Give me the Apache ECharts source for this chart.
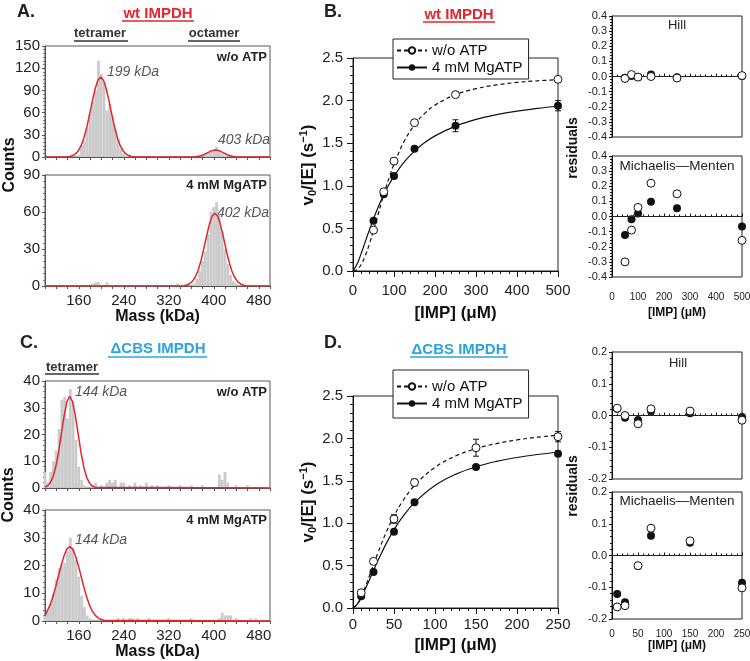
<!DOCTYPE html>
<html>
<head>
<meta charset="utf-8">
<title>IMPDH mass photometry and kinetics</title>
<script src="https://cdn.jsdelivr.net/npm/echarts@6/dist/echarts.min.js"></script>
<style>
html, body { margin: 0; padding: 0; background: #fff; }
#main { width: 750px; height: 661px; }
</style>
</head>
<body>
<div id="main"></div>
<script>
var FONT = '"Liberation Sans", Arial, Helvetica, sans-serif';
var RED = '#e3262d';
var BLUE = '#2ba4dd';

// ---- mass histograms (bin centre kDa, counts; bins 5 kDa wide) ----
var binWidth = 5;
var massTicks = [160, 240, 320, 400, 480];

// A, wt IMPDH, w/o ATP
var wtApoMass  = [160,165,170,175,180,185,190,195,200,205,210,215,220,225,230,235,240,245,300,345,370,385,390,395,400,405,410,415,420];
var wtApoCount = [3,16,22,40,58,75,90,130,112,100,63,72,55,38,24,12,5,2,1,1,2,3,5,7,9,14,8,4,2];
var wtApoFitMass  = [100,139,144,149,154,159,164,169,174,179,184,189,194,199,204,209,214,219,224,229,234,239,244,249,254,259,264,300,358,363,368,373,378,383,388,393,398,403,408,413,418,423,428,433,438,443,448,500];
var wtApoFitCount = [0,0.3,0.8,1.9,4.1,8.2,15.0,25.3,39.4,56.6,75.2,91.9,103.7,108,103.7,91.9,75.2,56.6,39.4,25.3,15.0,8.2,4.1,1.9,0.8,0.3,0.1,0,0.06,0.16,0.42,0.96,1.93,3.43,5.35,7.36,8.91,9.5,8.91,7.36,5.35,3.43,1.93,0.96,0.42,0.16,0.06,0];

// A, wt IMPDH, 4 mM MgATP
var wtAtpMass  = [125,155,185,190,195,210,235,290,330,335,340,365,370,375,380,385,390,395,400,405,410,415,420,425,430,435,440,465,490];
var wtAtpCount = [1,1,2,3,3,3,1,1,1,2,1,2,6,12,20,28,42,60,64,68,58,44,30,18,9,4,2,1,1];
var wtAtpFitMass  = [100,347,352,357,362,367,372,377,382,387,392,397,402,407,412,417,422,427,432,437,442,447,452,457,500];
var wtAtpFitCount = [0,0.3,0.8,1.8,3.7,7.1,12.4,20.0,29.6,40.0,49.6,56.5,59,56.5,49.6,40.0,29.6,20.0,12.4,7.1,3.7,1.8,0.8,0.3,0];

// C, dCBS IMPDH, w/o ATP
var cbsApoMass  = [100,105,110,115,120,125,130,135,140,145,150,155,160,165,170,185,190,200,210,215,220,225,235,240,250,260,270,280,290,300,320,340,360,380,410,415,420,425,440,460];
var cbsApoCount = [6,2,6,10,14,22,33,34,26,37,32,18,8,3,1,1,2,1,2,3,2,3,2,2,1,2,1,2,1,1,1,1,1,1,5,3,6,2,1,1];
var cbsApoFitMass  = [100,104,109,114,119,124,129,134,139,144,149,154,159,164,169,174,179,184,189,500];
var cbsApoFitCount = [0.35,0.75,1.9,4.0,7.8,13.2,20.1,27.0,32.3,34.3,32.3,27.0,20.1,13.2,7.8,4.0,1.9,0.75,0.3,0];

// C, dCBS IMPDH, 4 mM MgATP
var cbsAtpMass  = [100,105,110,115,120,125,130,135,140,145,150,155,160,165,170,175,180,230,240,250,255,265,285,320,360,410,415,420,425,430,440,465,475];
var cbsAtpCount = [2,4,6,10,15,19,20,21,25,30,26,22,16,9,5,2,1,1,1,1,1,1,1,1,1,1,3,2,2,2,1,1,1];
var cbsAtpFitMass  = [100,104,109,114,119,124,129,134,139,144,149,154,159,164,169,174,179,184,189,194,199,204,500];
var cbsAtpFitCount = [1.8,3.6,5.8,8.7,12.3,16.3,20.2,23.6,26.0,26.8,26.0,23.6,20.2,16.3,12.3,8.7,5.8,3.6,2.1,1.2,0.6,0.3,0];

// ---- kinetics, wt IMPDH (B) ----
var bConc   = [50, 75, 100, 150, 250, 500];
var bApo    = [0.48, 0.93, 1.29, 1.74, 2.07, 2.25];
var bAtp    = [0.59, 0.90, 1.115, 1.435, 1.705, 1.94];
var bApoErr = [0.01, 0.01, 0.01, 0.01, 0.01, 0.01];
var bAtpErr = [0.01, 0.01, 0.01, 0.01, 0.07, 0.06];
var bFitX   = [0,10,20,30,40,50,60,70,80,90,100,125,150,175,200,250,300,350,400,450,500];
var bFitApo = [0,0.017,0.077,0.18,0.317,0.477,0.646,0.814,0.974,1.122,1.254,1.524,1.715,1.85,1.947,2.07,2.14,2.184,2.213,2.232,2.246];
var bFitAtp = [0,0.081,0.207,0.345,0.483,0.614,0.734,0.845,0.944,1.033,1.113,1.28,1.407,1.507,1.586,1.70,1.779,1.835,1.877,1.909,1.934];
var bHillApo = [-0.013, 0.013, -0.004, 0.0, -0.01, 0.006];
var bHillAtp = [-0.008, 0.004, -0.004, 0.013, -0.005, 0.004];
var bMmApo   = [-0.30, -0.09, 0.06, 0.22, 0.15, -0.158];
var bMmAtp   = [-0.123, -0.018, 0.02, 0.097, 0.055, -0.066];

// ---- kinetics, dCBS IMPDH (D) ----
var dConc   = [10, 25, 50, 75, 150, 250];
var dApo    = [0.18, 0.55, 1.05, 1.48, 1.89, 2.02];
var dAtp    = [0.14, 0.425, 0.90, 1.246, 1.663, 1.82];
var dApoErr = [0.02, 0.03, 0.05, 0.04, 0.10, 0.06];
var dAtpErr = [0.01, 0.01, 0.01, 0.01, 0.02, 0.03];
var dFitX   = [0,5,10,20,25,30,40,50,60,75,100,125,150,175,200,225,250];
var dFitApo = [0,0.043,0.132,0.377,0.511,0.641,0.882,1.085,1.252,1.444,1.659,1.792,1.88,1.939,1.982,2.014,2.038];
var dFitAtp = [0,0.042,0.123,0.331,0.442,0.55,0.75,0.924,1.069,1.243,1.445,1.576,1.666,1.729,1.775,1.81,1.837];
var dHillApo = [0.023, 0.0, -0.026, 0.021, 0.014, -0.015];
var dHillAtp = [0.021, -0.007, -0.014, 0.014, 0.007, -0.005];
var dMmApo   = [-0.162, -0.158, -0.032, 0.086, 0.046, -0.102];
var dMmAtp   = [-0.121, -0.147, -0.033, 0.062, 0.04, -0.086];

function zip(xs, ys, es) {
    return xs.map(function (x, i) { return es ? [x, ys[i], es[i]] : [x, ys[i]]; });
}
function fmt1(v) { return Math.abs(v) < 1e-9 ? '0.0' : v.toFixed(1); }

var chart = echarts.init(document.getElementById('main'));

//面板位置
var grids = [
    {left: 45,  top: 46,  width: 225, height: 111},  // A w/o ATP
    {left: 45,  top: 175, width: 225, height: 111},  // A MgATP
    {left: 353, top: 58,  width: 205, height: 213},  // B
    {left: 612, top: 16,  width: 130, height: 121},  // B Hill
    {left: 612, top: 156, width: 130, height: 121},  // B MM
    {left: 45,  top: 381, width: 225, height: 107},  // C w/o ATP
    {left: 45,  top: 510, width: 225, height: 111},  // C MgATP
    {left: 353, top: 396, width: 205, height: 212},  // D
    {left: 612, top: 352, width: 130, height: 127},  // D Hill
    {left: 612, top: 492, width: 130, height: 127}   // D MM
].map(function (g, i) {
    var hist = (i === 0 || i === 1 || i === 5 || i === 6);
    return Object.assign({show: true, borderColor: hist ? '#555' : '#222', borderWidth: 1,
        backgroundColor: 'transparent', outerBoundsMode: 'none'}, g);
});

function histX(gi, showLabels) {
    return {
        type: 'value', gridIndex: gi, min: 100, max: 500, interval: 20,
        axisLine: {lineStyle: {color: '#555'}},
        axisTick: {length: 3, lineStyle: {color: '#555'}},
        axisLabel: showLabels ? {fontSize: 15, margin: 7, color: '#222', fontFamily: FONT,
            formatter: function (v) { return massTicks.indexOf(v) >= 0 ? String(v) : ''; }} : {show: false},
        splitLine: {show: false},
        name: showLabels ? 'Mass (kDa)' : '', nameLocation: 'middle', nameGap: 21,
        nameTextStyle: {fontSize: 16, fontWeight: 'bold', color: '#111', fontFamily: FONT}
    };
}
function histY(gi, max, step, minor) {
    return {
        type: 'value', gridIndex: gi, min: 0, max: max, interval: step,
        axisLine: {show: true, lineStyle: {color: '#555'}},
        axisTick: {show: true, length: 3, lineStyle: {color: '#555'}},
        minorTick: {show: true, splitNumber: minor, length: 2, lineStyle: {color: '#777'}},
        axisLabel: {fontSize: 15, margin: 5, color: '#222', fontFamily: FONT},
        splitLine: {show: false}, minorSplitLine: {show: false}
    };
}
function kinX(gi, max, step, margin, gap) {
    return {
        type: 'value', gridIndex: gi, min: 0, max: max, interval: step,
        axisLine: {lineStyle: {color: '#111'}},
        axisTick: {length: 6, lineStyle: {color: '#111'}},
        minorTick: {show: true, splitNumber: 5, length: 3, lineStyle: {color: '#111'}},
        axisLabel: {fontSize: 15, margin: margin, color: '#222', fontFamily: FONT},
        splitLine: {show: false}, minorSplitLine: {show: false},
        name: '[IMP] (\u03bcM)', nameLocation: 'middle', nameGap: gap,
        nameTextStyle: {fontSize: 17, fontWeight: 'bold', color: '#111', fontFamily: FONT}
    };
}
function kinY(gi) {
    return {
        type: 'value', gridIndex: gi, min: 0, max: 2.5, interval: 0.5,
        axisLine: {show: true, lineStyle: {color: '#111'}},
        axisTick: {show: true, length: 6, lineStyle: {color: '#111'}},
        minorTick: {show: true, splitNumber: 5, length: 3, lineStyle: {color: '#111'}},
        axisLabel: {fontSize: 15, margin: 10, color: '#222', fontFamily: FONT, formatter: fmt1},
        splitLine: {show: false}, minorSplitLine: {show: false}
    };
}
function resX(gi, max, step, labels, margin, gap) {
    return {
        type: 'value', gridIndex: gi, min: 0, max: max, interval: step,
        axisLine: {lineStyle: {color: '#111'}},
        axisTick: {inside: true, length: 3, lineStyle: {color: '#111'}},
        minorTick: {show: true, splitNumber: 5, length: 2, lineStyle: {color: '#111'}},
        axisLabel: labels ? {fontSize: 10, margin: margin, color: '#222', fontFamily: FONT} : {show: false},
        splitLine: {show: false}, minorSplitLine: {show: false},
        name: labels ? '[IMP] (\u03bcM)' : '', nameLocation: 'middle', nameGap: gap,
        nameTextStyle: {fontSize: 12, fontWeight: 'bold', color: '#111', fontFamily: FONT}
    };
}
function resY(gi, lim) {
    return {
        type: 'value', gridIndex: gi, min: -lim, max: lim, interval: 0.1,
        axisLine: {show: true, lineStyle: {color: '#111'}},
        axisTick: {show: true, length: 3, lineStyle: {color: '#111'}},
        minorTick: {show: true, splitNumber: 5, length: 2, lineStyle: {color: '#111'}},
        axisLabel: {fontSize: 11, margin: 5, color: '#222', fontFamily: FONT, formatter: fmt1},
        splitLine: {show: false}, minorSplitLine: {show: false}
    };
}

function binItem(params, api) {
    var m = api.value(0), c = api.value(1);
    var tl = api.coord([m - binWidth / 2, c]);
    var br = api.coord([m + binWidth / 2, 0]);
    return {type: 'rect', shape: {x: tl[0], y: tl[1], width: br[0] - tl[0], height: br[1] - tl[1]},
        style: {fill: '#cbcbcb'}};
}
function errItem(params, api) {
    var x = api.value(0), y = api.value(1), e = api.value(2);
    var hi = api.coord([x, y + e]), lo = api.coord([x, y - e]);
    var cap = 3, st = {stroke: '#111', lineWidth: 1};
    return {type: 'group', children: [
        {type: 'line', shape: {x1: hi[0], y1: hi[1], x2: lo[0], y2: lo[1]}, style: st},
        {type: 'line', shape: {x1: hi[0] - cap, y1: hi[1], x2: hi[0] + cap, y2: hi[1]}, style: st},
        {type: 'line', shape: {x1: lo[0] - cap, y1: lo[1], x2: lo[0] + cap, y2: lo[1]}, style: st}
    ]};
}

function histSeries(gi, mass, counts) {
    return {type: 'custom', xAxisIndex: gi, yAxisIndex: gi, renderItem: binItem,
        encode: {x: 0, y: 1}, data: zip(mass, counts), silent: true, z: 1};
}
function fitSeries(gi, mass, counts) {
    return {type: 'line', xAxisIndex: gi, yAxisIndex: gi, data: zip(mass, counts),
        symbol: 'none', lineStyle: {color: RED, width: 1.5}, silent: true, z: 3};
}
function curveSeries(gi, name, xs, ys, dashed) {
    return {type: 'line', name: name, xAxisIndex: gi, yAxisIndex: gi, data: zip(xs, ys),
        smooth: 0.4, showSymbol: false, symbol: dashed ? 'emptyCircle' : 'circle', symbolSize: 6,
        itemStyle: {color: '#111', borderWidth: 1},
        lineStyle: {color: '#111', width: 1.2, type: dashed ? [4, 3] : 'solid'}, z: 2, silent: true};
}
function errSeries(gi, xs, ys, es) {
    return {type: 'custom', xAxisIndex: gi, yAxisIndex: gi, renderItem: errItem,
        encode: {x: 0, y: 1}, data: zip(xs, ys, es), silent: true, z: 3};
}
function dotSeries(gi, name, xs, ys, open, size, zero) {
    var s = {type: 'scatter', name: name, xAxisIndex: gi, yAxisIndex: gi, data: zip(xs, ys),
        symbol: 'circle', symbolSize: size,
        itemStyle: open ? {color: '#fff', borderColor: '#111', borderWidth: 1, opacity: 1}
                        : {color: '#111', opacity: 1},
        z: open ? 5 : 4, silent: true};
    if (zero) {
        s.markLine = {silent: true, symbol: 'none', label: {show: false},
            lineStyle: {color: '#222', width: 1, type: 'solid'}, data: [{yAxis: 0}]};
    }
    return s;
}

function txt(x, y, text, font, color, align, rot) {
    return {type: 'text', x: x, y: y, rotation: rot || 0, silent: true,
        style: {text: text, font: font, fill: color || '#222', align: align || 'center', verticalAlign: 'middle'}};
}
function uline(x1, x2, y, color) {
    return {type: 'line', silent: true, shape: {x1: x1, y1: y, x2: x2, y2: y},
        style: {stroke: color, lineWidth: 1.3}};
}
function vName(x, y) {
    return {type: 'text', x: x, y: y, rotation: Math.PI / 2, silent: true,
        style: {text: '{m|v}{s|0}{m|/[E] (s}{p|\u22121}{m|)}', align: 'center', verticalAlign: 'middle',
            rich: {
                m: {font: 'bold 17px ' + FONT, fill: '#111', lineHeight: 20},
                s: {font: 'bold 11px ' + FONT, fill: '#111', lineHeight: 11, verticalAlign: 'bottom'},
                p: {font: 'bold 11px ' + FONT, fill: '#111', lineHeight: 11, verticalAlign: 'top'}
            }}};
}

var B = 'bold ', IT = 'italic ';
var graphics = [
    txt(26, 12, 'A.', B + '18px ' + FONT, '#222'),
    txt(158, 14, 'wt IMPDH', B + '15px ' + FONT, RED), uline(122, 194, 21, RED),
    txt(100, 33, 'tetramer', B + '13px ' + FONT, '#333'), uline(74, 128, 41, '#333'),
    txt(214, 33, 'octamer', B + '13px ' + FONT, '#333'), uline(188, 240, 41, '#333'),
    txt(267, 57, 'w/o ATP', B + '13px ' + FONT, '#222', 'right'),
    txt(107, 72, '199 kDa', IT + '14px ' + FONT, '#555', 'left'),
    txt(218, 140, '403 kDa', IT + '14px ' + FONT, '#555', 'left'),
    txt(267, 185, '4 mM MgATP', B + '13px ' + FONT, '#222', 'right'),
    txt(217, 213, '402 kDa', IT + '14px ' + FONT, '#555', 'left'),
    txt(10, 165, 'Counts', B + '16px ' + FONT, '#111', 'center', Math.PI / 2),

    txt(333, 12, 'B.', B + '18px ' + FONT, '#222'),
    txt(459, 15, 'wt IMPDH', B + '15px ' + FONT, RED), uline(423, 495, 22, RED),
    vName(308, 165),
    txt(677, 25, 'Hill', '13px ' + FONT, '#222'),
    txt(677, 166, 'Michaelis\u2014Menten', '13.5px ' + FONT, '#222'),
    txt(573, 148, 'residuals', B + '14px ' + FONT, '#111', 'center', Math.PI / 2),

    txt(29, 343, 'C.', B + '18px ' + FONT, '#222'),
    txt(158, 349, '\u0394CBS IMPDH', B + '15px ' + FONT, BLUE), uline(108, 207, 357, BLUE),
    txt(72, 367, 'tetramer', B + '13px ' + FONT, '#333'), uline(45, 99, 374, '#333'),
    txt(267, 392, 'w/o ATP', B + '13px ' + FONT, '#222', 'right'),
    txt(75, 392, '144 kDa', IT + '14px ' + FONT, '#555', 'left'),
    txt(267, 520, '4 mM MgATP', B + '13px ' + FONT, '#222', 'right'),
    txt(75, 540, '144 kDa', IT + '14px ' + FONT, '#555', 'left'),
    txt(9, 495, 'Counts', B + '16px ' + FONT, '#111', 'center', Math.PI / 2),

    txt(333, 343, 'D.', B + '18px ' + FONT, '#222'),
    txt(459, 350, '\u0394CBS IMPDH', B + '15px ' + FONT, BLUE), uline(410, 508, 357, BLUE),
    vName(308, 502),
    txt(678, 363, 'Hill', '13px ' + FONT, '#222'),
    txt(677, 501, 'Michaelis\u2014Menten', '13.5px ' + FONT, '#222'),
    txt(573, 486, 'residuals', B + '14px ' + FONT, '#111', 'center', Math.PI / 2)
];

function legendAt(top, pad) {
    return {
        orient: 'vertical', left: 393, top: top, data: ['w/o ATP', '4 mM MgATP'],
        backgroundColor: '#fff', borderColor: '#222', borderWidth: 1, borderRadius: 0,
        padding: pad, itemGap: 2, itemWidth: 30, itemHeight: 8, selectedMode: false,
        textStyle: {fontSize: 15, color: '#111', fontFamily: FONT, lineHeight: 15}
    };
}

option = {
    animation: false,
    backgroundColor: '#fff',
    grid: grids,
    legend: [legendAt(39, [4, 6, 4, 3]), legendAt(370, [9, 6, 7, 3])],
    xAxis: [
        histX(0, false), histX(1, true),
        kinX(2, 500, 100, 12, 34),
        resX(3, 500, 100, false, 0, 0), resX(4, 500, 100, true, 15, 30),
        histX(5, false), histX(6, true),
        kinX(7, 250, 50, 9, 29),
        resX(8, 250, 50, false, 0, 0), resX(9, 250, 50, true, 10, 21)
    ],
    yAxis: [
        histY(0, 150, 30, 6), histY(1, 90, 30, 6),
        kinY(2), resY(3, 0.4), resY(4, 0.4),
        histY(5, 40, 10, 5), histY(6, 40, 10, 5),
        kinY(7), resY(8, 0.2), resY(9, 0.2)
    ],
    series: [
        histSeries(0, wtApoMass, wtApoCount), fitSeries(0, wtApoFitMass, wtApoFitCount),
        histSeries(1, wtAtpMass, wtAtpCount), fitSeries(1, wtAtpFitMass, wtAtpFitCount),
        histSeries(5, cbsApoMass, cbsApoCount), fitSeries(5, cbsApoFitMass, cbsApoFitCount),
        histSeries(6, cbsAtpMass, cbsAtpCount), fitSeries(6, cbsAtpFitMass, cbsAtpFitCount),

        curveSeries(2, 'w/o ATP', bFitX, bFitApo, true),
        curveSeries(2, '4 mM MgATP', bFitX, bFitAtp, false),
        errSeries(2, bConc, bAtp, bAtpErr), errSeries(2, bConc, bApo, bApoErr),
        dotSeries(2, 'b atp', bConc, bAtp, false, 8), dotSeries(2, 'b apo', bConc, bApo, true, 8),
        dotSeries(3, 'b hill atp', bConc, bHillAtp, false, 8, true), dotSeries(3, 'b hill apo', bConc, bHillApo, true, 8),
        dotSeries(4, 'b mm atp', bConc, bMmAtp, false, 8, true), dotSeries(4, 'b mm apo', bConc, bMmApo, true, 8),

        curveSeries(7, 'w/o ATP', dFitX, dFitApo, true),
        curveSeries(7, '4 mM MgATP', dFitX, dFitAtp, false),
        errSeries(7, dConc, dAtp, dAtpErr), errSeries(7, dConc, dApo, dApoErr),
        dotSeries(7, 'd atp', dConc, dAtp, false, 8), dotSeries(7, 'd apo', dConc, dApo, true, 8),
        dotSeries(8, 'd hill atp', dConc, dHillAtp, false, 8, true), dotSeries(8, 'd hill apo', dConc, dHillApo, true, 8),
        dotSeries(9, 'd mm atp', dConc, dMmAtp, false, 8, true), dotSeries(9, 'd mm apo', dConc, dMmApo, true, 8)
    ],
    graphic: graphics
};
chart.setOption(option);
</script>
</body>
</html>
